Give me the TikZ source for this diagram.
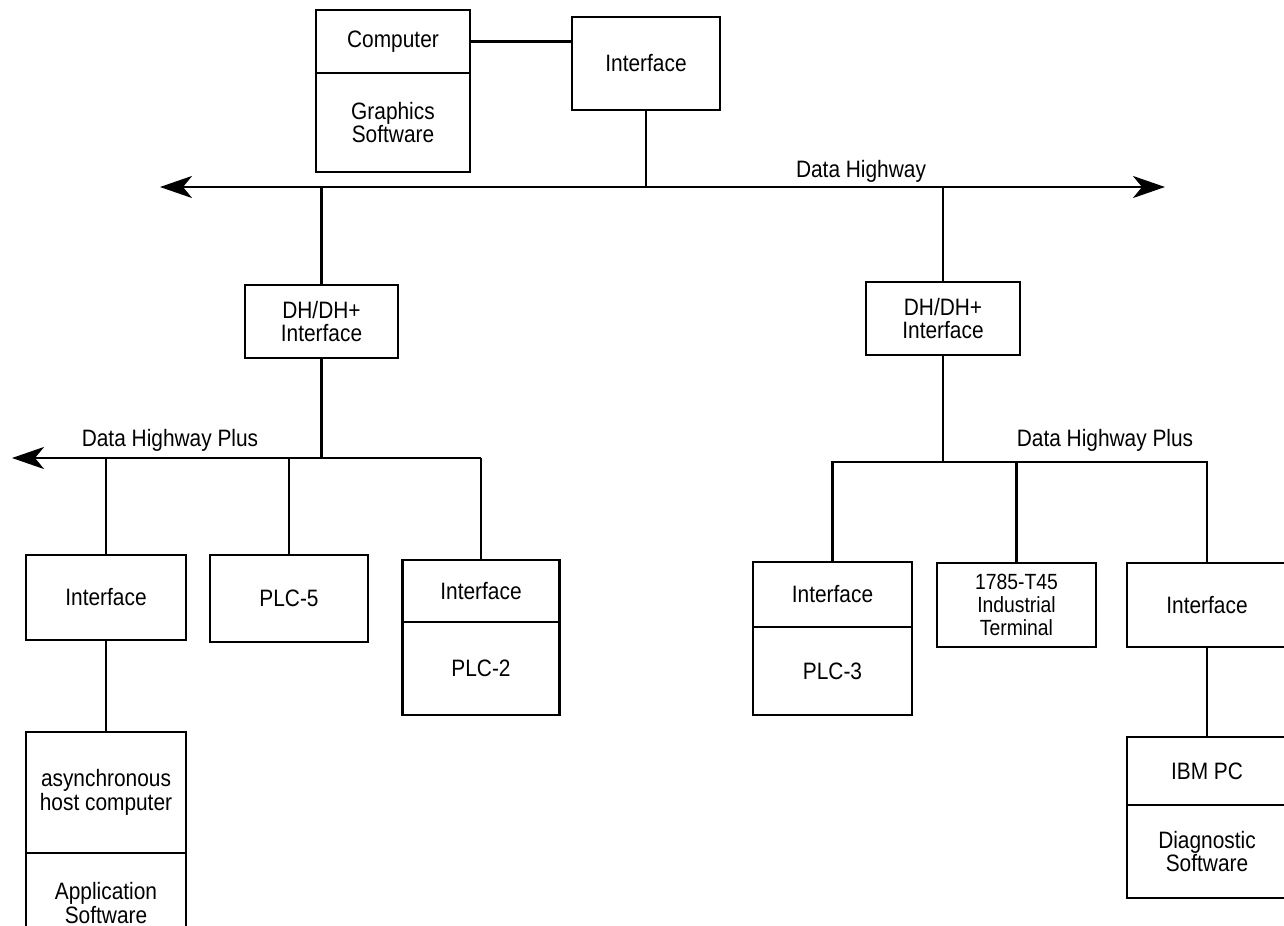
\documentclass[tikz,border=0pt]{standalone}
\usepackage{fontspec}
\setmainfont{Liberation Sans}[FakeStretch=0.88]
\usepackage{tikz}
\usetikzlibrary{positioning, arrows.meta}
\tikzset{
    netbox/.style={rectangle, draw, line width=1.6pt, outer sep=0pt, inner sep=0pt,
        align=center, font=\fontsize{13.5}{13.5}\selectfont},
    busline/.style={line width=1.6pt},
    buslabel/.style={anchor=base, font=\fontsize{13.5}{14}\selectfont}
}
\begin{document}
\begin{tikzpicture}[x=0.2mm, y=-0.2mm, >={Stealth[length=6.4mm, width=4.4mm, inset=1.8mm]}]
    \useasboundingbox (0,0) rectangle (1284,926);
    \clip (0,0) rectangle (1284,926);
    \node[netbox, minimum width=30.8mm, minimum height=12.6mm] (comp) at (393,41.5) {Computer};
    \node[netbox, minimum width=30.8mm, minimum height=19.8mm, below=0pt of comp] (gfx) {Graphics\\Software};
    \node[netbox, minimum width=29.6mm, minimum height=18.6mm] (iftop) at (646,63.5) {Interface};

    \coordinate (hwL) at (160,187);
    \coordinate (hwR) at (1165,187);
    \node[buslabel] (hwlabel) at (861,177) {Data Highway};

    \node[netbox, minimum width=30.6mm, minimum height=14.6mm] (dhL) at (321.5,321.5) {DH/DH+\\Interface};
    \node[netbox, minimum width=30.8mm, minimum height=14.6mm] (dhR) at (943,318.5) {DH/DH+\\Interface};

    \coordinate (dhpL) at (12,458);
    \coordinate (dhpR) at (943,462);
    \node[buslabel] (dhplabelL) at (170,446) {Data Highway Plus};
    \node[buslabel] (dhplabelR) at (1105,446) {Data Highway Plus};

    \node[netbox, minimum width=32mm, minimum height=17mm] (ifA) at (106,597.5) {Interface};
    \node[netbox, minimum width=32mm, minimum height=24.2mm, below=18.4mm of ifA] (host) {asynchronous\\host computer};
    \node[netbox, minimum width=32mm, minimum height=20mm, below=0pt of host] (app) {Application\\Software};
    \node[netbox, minimum width=31.6mm, minimum height=17.4mm] (plc5) at (289,598.5) {PLC-5};
    \node[netbox, minimum width=31.4mm, minimum height=12.4mm] (ifB) at (481,591) {Interface};
    \node[netbox, minimum width=31.4mm, minimum height=18.6mm, below=0pt of ifB] (plc2) {PLC-2};

    \node[netbox, minimum width=31.8mm, minimum height=13mm] (ifC) at (832.5,594.5) {Interface};
    \node[netbox, minimum width=31.8mm, minimum height=17.6mm, below=0pt of ifC] (plc3) {PLC-3};
    \node[netbox, minimum width=31.8mm, minimum height=16.8mm, font=\fontsize{12.5}{13}\selectfont] (term) at (1016.5,605) {1785-T45\\Industrial\\Terminal};
    \node[netbox, minimum width=32mm, minimum height=16.8mm] (ifD) at (1207,605) {Interface};
    \node[netbox, minimum width=32mm, minimum height=13.6mm, below=18mm of ifD] (ibm) {IBM PC};
    \node[netbox, minimum width=32mm, minimum height=18.6mm, below=0pt of ibm] (diag) {Diagnostic\\Software};

    \draw[busline] (comp.east) -- (comp.east -| iftop.west);
    \draw[busline, <->] (hwL) -- (hwR);
    \draw[busline] (iftop.south) -- (iftop.south |- hwL);
    \draw[busline] (dhL.north |- hwL) -- (dhL.north);
    \draw[busline] (dhR.north |- hwL) -- (dhR.north);

    \draw[busline, <-] (dhpL) -- (ifB.north |- dhpL);
    \draw[busline] (dhL.south) -- (dhL.south |- dhpL);
    \draw[busline] (ifA.north |- dhpL) -- (ifA.north);
    \draw[busline] (plc5.north |- dhpL) -- (plc5.north);
    \draw[busline] (ifB.north |- dhpL) -- (ifB.north);
    \draw[busline] (ifA.south) -- (host.north);

    \draw[busline] (dhR.south) -- (dhpR);
    \draw[busline] (ifC.north) |- (ifD.north |- dhpR) -- (ifD.north);
    \draw[busline] (term.north |- dhpR) -- (term.north);
    \draw[busline] (ifD.south) -- (ibm.north);
\end{tikzpicture}
\end{document}
